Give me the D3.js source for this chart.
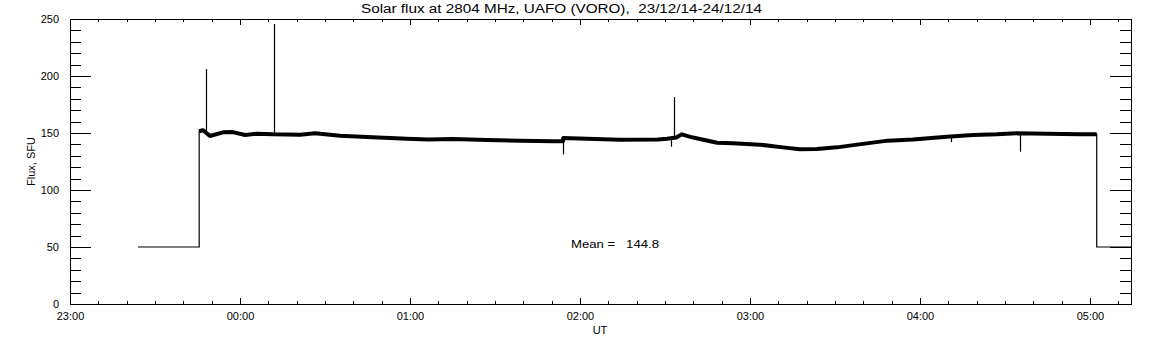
<!DOCTYPE html>
<html><head><meta charset="utf-8">
<script src="https://cdn.jsdelivr.net/npm/d3@7"></script>
<style>
html,body{margin:0;padding:0;background:#fff;}
svg{display:block;font-family:"Liberation Sans",Arial,sans-serif;}
text.pre{white-space:pre;}
</style></head>
<body>
<svg id="chart" width="1152" height="345"></svg>
<script>
// ---- data ----
const titleText = "Solar flux at 2804 MHz, UAFO (VORO),  23/12/14-24/12/14";
const yLabel = "Flux, SFU";
const xLabel = "UT";
const meanText = "Mean =   144.8";
const xDomain = ["23:00:00", "05:14:30"];
const yDomain = [0, 250];
const yMajorTicks = [0, 50, 100, 150, 200, 250];

// low-level (instrument off) segments
const offTimes1 = ["23:24:00", "23:45:36"];
const offVals1  = [50, 50];
const offTimes2 = ["05:02:24", "05:14:30"];
const offVals2  = [50, 50];

// main flux curve (band centre)
const fluxTimes = ["23:45:36","23:47:00","23:49:24","23:54:00","23:57:30","00:01:48","00:06:00","00:11:36",
  "00:21:12","00:26:30","00:35:18","00:46:54","00:58:54","01:06:24","01:15:12","01:27:12","01:38:48",
  "01:50:30","01:54:00","01:54:06","02:02:30","02:14:06","02:27:30","02:30:42","02:34:00","02:35:54",
  "02:39:54","02:48:24","02:54:00","03:03:30","03:11:36","03:17:36","03:23:36","03:30:42","03:37:48",
  "03:48:42","03:57:30","04:09:30","04:18:42","04:27:12","04:34:12","04:44:48","04:56:30","05:02:24"];
const fluxVals = [151.5,152.5,147.4,150.6,150.8,148.2,149.4,148.8,
  148.5,149.7,147.6,146.2,145.0,144.4,144.7,143.9,143.3,
  142.7,142.7,145.6,145.0,144.1,144.4,145.0,146.0,148.8,
  146.0,141.5,141.0,139.8,137.4,135.7,136.0,137.4,139.8,
  143.3,144.4,146.8,148.2,148.8,149.7,149.4,148.8,148.8];

// single-sample spikes: time, base, peak
const spikeTimes = ["23:48:06","00:12:06","01:54:00","02:32:18","02:33:18","04:35:24","04:11:00"];
const spikeBase  = [152, 149, 142.7, 145.5, 146, 149.7, 147];
const spikePeak  = [206, 245.6, 131.3, 138, 181.6, 133.6, 142];

// ---- helpers ----
function parseT(s){
  const [h,m,sec] = s.split(":").map(Number);
  const day = h >= 12 ? 23 : 24;
  return new Date(2014, 11, day, h, m, sec);
}

const svg = d3.select("#chart");
const L = 70, R = 1131, T = 19, B = 304;

const x = d3.scaleTime().domain(xDomain.map(parseT)).range([L, R]);
const y = d3.scaleLinear().domain(yDomain).range([B, T]);

const xMajor = d3.timeHour.every(1).range(x.domain()[0], x.domain()[1]);
const xMinor = d3.timeMinute.every(10).range(x.domain()[0], x.domain()[1]);
const yMinor = d3.range(0, 251, 10);

const fmt = d3.timeFormat("%H:%M");

function styleAxis(g){
  g.select(".domain").remove();
  g.selectAll("line").attr("stroke","#000").attr("shape-rendering","crispEdges");
  g.selectAll("text").attr("fill","#000").attr("font-size","11px").attr("font-family","'Liberation Sans',Arial,sans-serif");
}

// bottom axis
svg.append("g").attr("transform",`translate(0,${B})`)
  .call(d3.axisBottom(x).tickValues(xMinor).tickSize(-3).tickFormat(""))
  .call(styleAxis);
svg.append("g").attr("transform",`translate(0,${B})`)
  .call(d3.axisBottom(x).tickValues(xMajor).tickSize(-6).tickPadding(8).tickFormat(fmt))
  .call(styleAxis);
// top axis
svg.append("g").attr("transform",`translate(0,${T})`)
  .call(d3.axisTop(x).tickValues(xMinor).tickSize(-3).tickFormat(""))
  .call(styleAxis);
svg.append("g").attr("transform",`translate(0,${T})`)
  .call(d3.axisTop(x).tickValues(xMajor).tickSize(-6).tickFormat(""))
  .call(styleAxis);
// left axis
svg.append("g").attr("transform",`translate(${L},0)`)
  .call(d3.axisLeft(y).tickValues(yMinor).tickSize(-11).tickFormat(""))
  .call(styleAxis);
svg.append("g").attr("transform",`translate(${L},0)`)
  .call(d3.axisLeft(y).tickValues(yMajorTicks).tickSize(-21).tickPadding(11).tickFormat(d3.format("d")))
  .call(styleAxis);
// right axis
svg.append("g").attr("transform",`translate(${R},0)`)
  .call(d3.axisRight(y).tickValues(yMinor).tickSize(-11).tickFormat(""))
  .call(styleAxis);
svg.append("g").attr("transform",`translate(${R},0)`)
  .call(d3.axisRight(y).tickValues(yMajorTicks).tickSize(-21).tickFormat(""))
  .call(styleAxis);

// frame
svg.append("rect").attr("x",L+0.5).attr("y",T+0.5).attr("width",R-L).attr("height",B-T)
  .attr("fill","none").attr("stroke","#000").attr("stroke-width",1).attr("shape-rendering","crispEdges");

// data
const line = d3.line().x(d=>x(d[0])).y(d=>y(d[1]));
const off1 = offTimes1.map((t,i)=>[parseT(t),offVals1[i]]);
const off2 = offTimes2.map((t,i)=>[parseT(t),offVals2[i]]);
const flux = fluxTimes.map((t,i)=>[parseT(t),fluxVals[i]]);

// thin full trace incl. steps
const full = off1.concat(flux).concat(off2);
svg.append("path").datum(full).attr("d",line).attr("fill","none").attr("stroke","#000").attr("stroke-width",1.2);
// thick noisy band
svg.append("path").datum(flux).attr("d",line).attr("fill","none").attr("stroke","#000")
  .attr("stroke-width",4).attr("stroke-linejoin","round").attr("stroke-linecap","butt");

// spikes
svg.append("g").selectAll("line").data(spikeTimes).join("line")
  .attr("x1",(d,i)=>Math.round(x(parseT(d)))+0.5).attr("x2",(d,i)=>Math.round(x(parseT(d)))+0.5)
  .attr("y1",(d,i)=>y(spikeBase[i])).attr("y2",(d,i)=>y(spikePeak[i]))
  .attr("stroke","#000").attr("stroke-width",1.2);

// texts
svg.append("text").attr("class","pre").attr("xml:space","preserve").attr("x",361).attr("y",13)
  .attr("font-size","12px").attr("textLength",401).attr("lengthAdjust","spacingAndGlyphs").text(titleText);
svg.append("text").attr("x",600).attr("y",334).attr("text-anchor","middle").attr("font-size","11px").text(xLabel);
svg.append("text").attr("transform",`translate(35,${(T+B)/2}) rotate(-90)`).attr("text-anchor","middle")
  .attr("font-size","11px").text(yLabel);
svg.append("text").attr("class","pre").attr("xml:space","preserve").attr("x",571).attr("y",248)
  .attr("font-size","11px").attr("textLength",88).attr("lengthAdjust","spacingAndGlyphs").text(meanText);
</script>
</body></html>
